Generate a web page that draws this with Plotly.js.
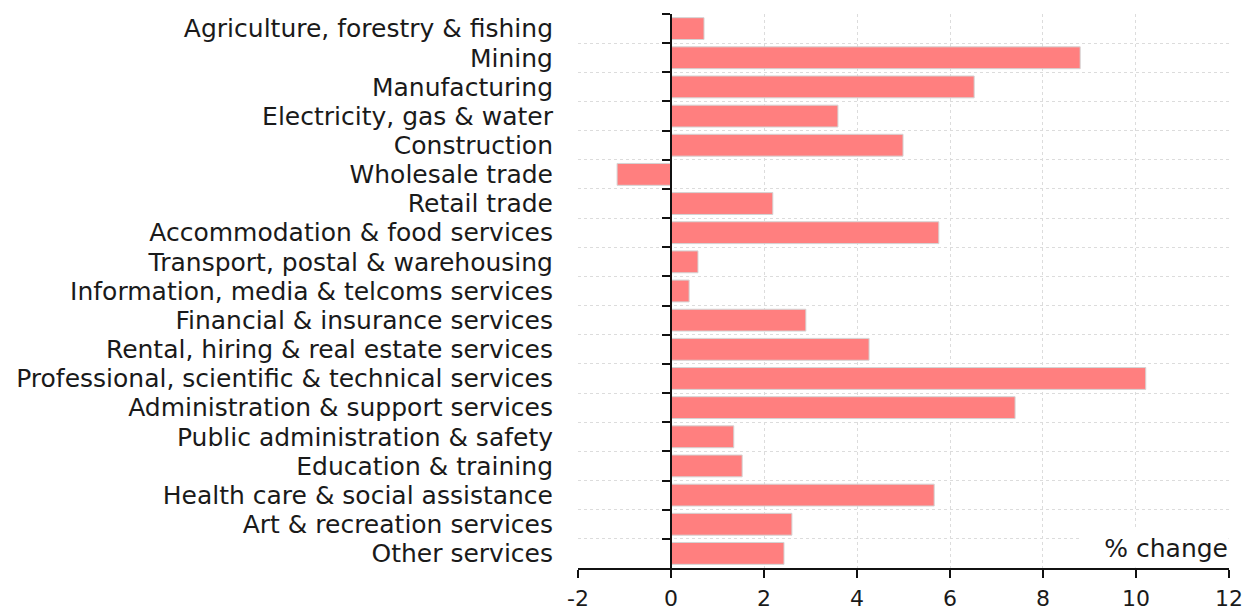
<!DOCTYPE html>
<html>
<head>
<meta charset="utf-8">
<script src="https://cdn.plot.ly/plotly-3.0.1.min.js"></script>
<style>html,body{margin:0;padding:0;background:#fff;}#chart{width:1242px;height:611px;}</style>
</head>
<body>
<div id="chart"></div>
<script>
const categories = [
  "Agriculture, forestry & fishing",
  "Mining",
  "Manufacturing",
  "Electricity, gas & water",
  "Construction",
  "Wholesale trade",
  "Retail trade",
  "Accommodation & food services",
  "Transport, postal & warehousing",
  "Information, media & telcoms services",
  "Financial & insurance services",
  "Rental, hiring & real estate services",
  "Professional, scientific & technical services",
  "Administration & support services",
  "Public administration & safety",
  "Education & training",
  "Health care & social assistance",
  "Art & recreation services",
  "Other services"
];
const pctChange = [0.71, 8.8, 6.52, 3.59, 4.99, -1.16, 2.19, 5.76, 0.58, 0.39, 2.9, 4.26, 10.21, 7.4, 1.35, 1.53, 5.66, 2.6, 2.43];
const xTicks = [-2, 0, 2, 4, 6, 8, 10, 12];
const unitLabel = "% change";

const FONT = "DejaVu Sans, sans-serif";
const EPS = 0.0005;
const nCat = categories.length;

const traces = [
  {
    type: "bar", orientation: "h",
    x: pctChange, y: categories,
    marker: {color: "#FF7F7F", line: {color: "#d4d4d4", width: 1}},
    hoverinfo: "x+y"
  },
  {
    type: "bar", orientation: "h",
    x: pctChange, y: categories, yaxis: "y2",
    marker: {color: "rgba(0,0,0,0)"},
    hoverinfo: "skip", showlegend: false
  }
];

const yRange = [nCat - 0.5 + EPS, -0.5 - EPS];

const layout = {
  width: 1242, height: 611,
  margin: {l: 578, r: 13, t: 14, b: 43},
  paper_bgcolor: "#fff", plot_bgcolor: "#fff",
  showlegend: false,
  bargap: 0.25,
  font: {family: FONT, size: 25, color: "#1a1a1a"},
  xaxis: {
    range: [-2 - EPS, 12 + EPS], tickvals: xTicks, ticktext: xTicks.map(String),
    showline: true, linecolor: "#111", linewidth: 2,
    ticks: "outside", ticklen: 8, tickwidth: 2, tickcolor: "#111",
    showgrid: true, gridcolor: "#dcdcdc", griddash: "dot", gridwidth: 1,
    zeroline: false, ticklabeloverflow: "allow", ticklabelstandoff: 2,
    tickfont: {family: FONT, size: 22, color: "#1a1a1a"}
  },
  yaxis: {
    type: "category", categoryorder: "array", categoryarray: categories,
    range: yRange, tickmode: "linear", tick0: 0, dtick: 1,
    tickson: "boundaries", ticks: "", showline: false,
    showgrid: true, gridcolor: "#dcdcdc", griddash: "dot", gridwidth: 1,
    zeroline: false, ticklabelstandoff: 24,
    tickfont: {family: FONT, size: 25, color: "#1a1a1a"}
  },
  yaxis2: {
    type: "category", categoryorder: "array", categoryarray: categories,
    range: yRange, tickmode: "linear", tick0: 0, dtick: 1,
    overlaying: "y", anchor: "free", position: 2/14, side: "left",
    tickson: "boundaries", ticks: "outside", ticklen: 8, tickwidth: 2, tickcolor: "#111",
    showline: true, linecolor: "#111", linewidth: 2,
    showgrid: false, zeroline: false, showticklabels: false
  },
  annotations: [{
    xref: "paper", yref: "paper", x: 1, y: 0, xanchor: "right", yanchor: "bottom",
    text: unitLabel, showarrow: false, bgcolor: "#fff", borderpad: 0,
    width: 148, height: 37, align: "right", valign: "middle",
    font: {family: FONT, size: 25, color: "#1a1a1a"}
  }]
};

Plotly.newPlot("chart", traces, layout, {displayModeBar: false, staticPlot: true});
</script>
</body>
</html>
